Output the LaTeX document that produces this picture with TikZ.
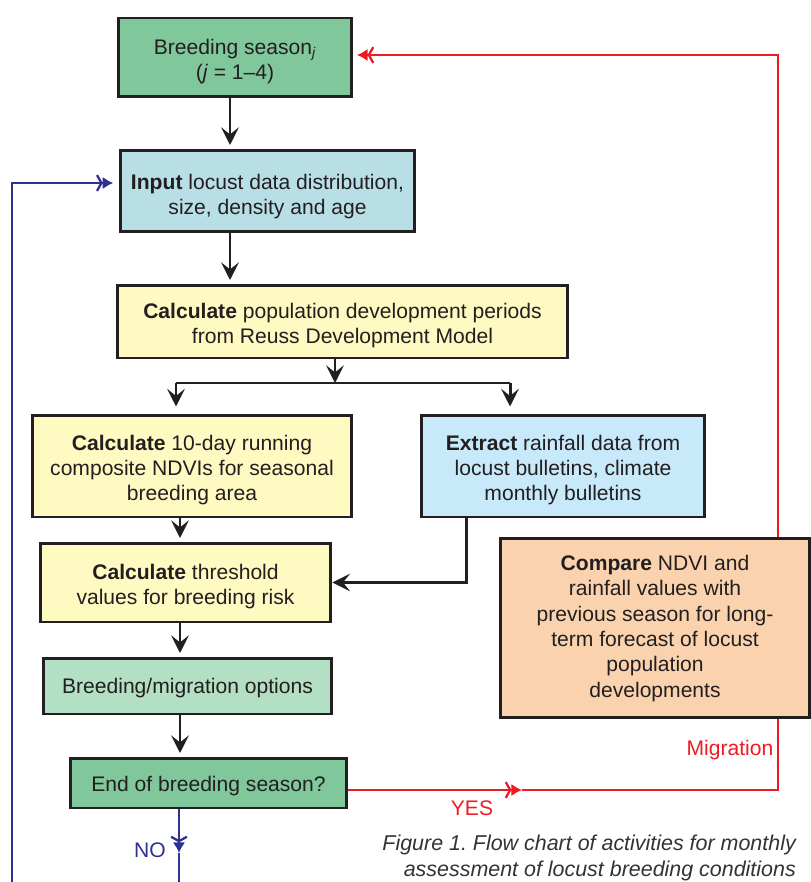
\documentclass[tikz,border=0pt]{standalone}
\usepackage{fontspec}
\setmainfont{Liberation Sans}
\usepackage{xcolor}
\usepackage{tikz}
\usetikzlibrary{calc,arrows.meta}
\frenchspacing
\definecolor{ink}{HTML}{231F20}
\definecolor{seasongreen}{HTML}{80C89B}
\definecolor{optgreen}{HTML}{B3DFC4}
\definecolor{inputblue}{HTML}{B9DFE6}
\definecolor{rainblue}{HTML}{C7E9F9}
\definecolor{calcyellow}{HTML}{FFF9C2}
\definecolor{peach}{HTML}{FAD3AE}
\definecolor{migred}{HTML}{ED1C24}
\definecolor{loopblue}{HTML}{2E3192}
\definecolor{capgray}{HTML}{333333}
% box text, set a little below the middle of the box
\newcommand{\boxlines}[2][2.6pt]{\raisebox{-#1}[\height][\depth]{\begin{tabular}{@{}c@{}}#2\end{tabular}}}
\tikzset{
  box/.style={draw=ink, line width=1.7pt, inner sep=0pt, text=ink,
    font=\fontsize{12}{14.4}\selectfont},
  flow/.style={draw=ink, line width=1.7pt, -{Stealth[length=10pt,width=10pt,inset=4pt]}},
  flowline/.style={draw=ink, line width=1.7pt},
  redline/.style={draw=migred, line width=1.1pt},
  blueline/.style={draw=loopblue, line width=1.1pt},
  flagtip/.style={-{Straight Barb[length=2.5pt,width=9pt,line width=1.3pt] Latex[length=6pt,width=7pt]}},
  lab/.style={font=\fontsize{12}{14.4}\selectfont},
}

\begin{document}
\begin{tikzpicture}[x=0.02cm, y=-0.02cm]
  \useasboundingbox (0,0) rectangle (811,882);

  % boxes
  \node[box, fill=seasongreen, minimum width=4.68cm, minimum height=1.58cm] (season) at (235,57.5)
    {\boxlines{Breeding season\textsubscript{\itshape j}\\(\textit{j} = 1--4)}};
  \node[box, fill=inputblue, minimum width=5.9cm, minimum height=1.64cm] (input) at (267.5,191)
    {\boxlines[3.3pt]{\textbf{Input} locust data distribution,\\size, density and age}};
  \node[box, fill=calcyellow, minimum width=9.02cm, minimum height=1.46cm] (calcpop) at (342.5,321.5)
    {\boxlines{\textbf{Calculate} population development periods\\from Reuss Development Model}};
  \node[box, fill=calcyellow, minimum width=6.4cm, minimum height=2.04cm] (ndvi) at (192,466)
    {\boxlines{\textbf{Calculate} 10-day running\\composite NDVIs for seasonal\\breeding area}};
  \node[box, fill=rainblue, minimum width=5.68cm, minimum height=2.04cm] (extract) at (563,466)
    {\boxlines{\textbf{Extract} rainfall data from\\locust bulletins, climate\\monthly bulletins}};
  \node[box, fill=calcyellow, minimum width=5.82cm, minimum height=1.58cm] (threshold) at (185.5,582.5)
    {\boxlines{\textbf{Calculate} threshold\\values for breeding risk}};
  \node[box, fill=peach, minimum width=6.18cm, minimum height=3.6cm] (compare) at (655,628)
    {\boxlines[0.5pt]{\textbf{Compare} NDVI and\\rainfall values with\\previous season for long-\\term forecast of locust\\population\\developments}};
  \node[box, fill=optgreen, minimum width=5.78cm, minimum height=1.12cm] (options) at (187.5,686)
    {\boxlines[1.2pt]{Breeding/migration options}};
  \node[box, fill=seasongreen, minimum width=5.54cm, minimum height=1.0cm] (endq) at (208.5,783)
    {\boxlines[2.1pt]{End of breeding season?}};

  % main flow
  \draw[flow, shorten >=2pt] (season.south -| 230,0) -- (input.north -| 230,0);
  \draw[flow, shorten >=2pt] (input.south -| 230,0) -- (calcpop.north -| 230,0);
  \coordinate (split) at (335,383);
  \coordinate (brL) at (176,383);
  \coordinate (brR) at (510,383);
  \draw[flow] (calcpop.south -| split) -- (split);
  \draw[flowline] (brL) -- (brR);
  \draw[flow, shorten >=4pt] (brL) -- (ndvi.north -| brL);
  \draw[flow, shorten >=4pt] (brR) -- (extract.north -| brR);
  \draw[flow, shorten >=2pt] (ndvi.south -| 180,0) -- (threshold.north -| 180,0);
  \coordinate (exDrop) at (466,0);
  \draw[flow] (extract.south -| exDrop) |- (threshold.east);
  \draw[flow, shorten >=2pt] (threshold.south -| 180,0) -- (options.north -| 180,0);
  \draw[flow, shorten >=2pt] (options.south -| 180,0) -- (endq.north -| 180,0);

  % migration loop
  \coordinate (yesTip) at (522,790);
  \coordinate (migCorner) at (778,790);
  \coordinate (topCorner) at (778,55);
  \draw[redline, flagtip] (endq.east |- yesTip) -- (yesTip);
  \draw[redline] (yesTip) -- (migCorner) -- (migCorner |- compare.south);
  \draw[redline, flagtip, shorten >=2pt] (topCorner |- compare.north) -- (topCorner) -- (season.east |- topCorner);
  \node[lab, text=migred] (yes) at (472,808) {YES};
  \node[lab, text=migred] (mig) at (730,750) {Migration};

  % new season loop
  \coordinate (noTip) at (179,853);
  \coordinate (noEnd) at (179,882);
  \coordinate (loopBot) at (12,882);
  \coordinate (loopTop) at (12,183);
  \draw[blueline, flagtip] (endq.south -| noTip) -- (noTip);
  \draw[blueline] (noTip) -- (noEnd);
  \draw[blueline, flagtip, shorten >=3pt] (loopBot) -- (loopTop) -- (input.west |- loopTop);
  \node[lab, text=loopblue] (no) at (150,850) {NO};

  \node[lab, text=capgray, align=right, anchor=east, font=\fontsize{12.2}{14.4}\selectfont\itshape] (caption) at (802,858)
    {Figure 1. Flow chart of activities for monthly\\assessment of locust breeding conditions};
\end{tikzpicture}
\end{document}
